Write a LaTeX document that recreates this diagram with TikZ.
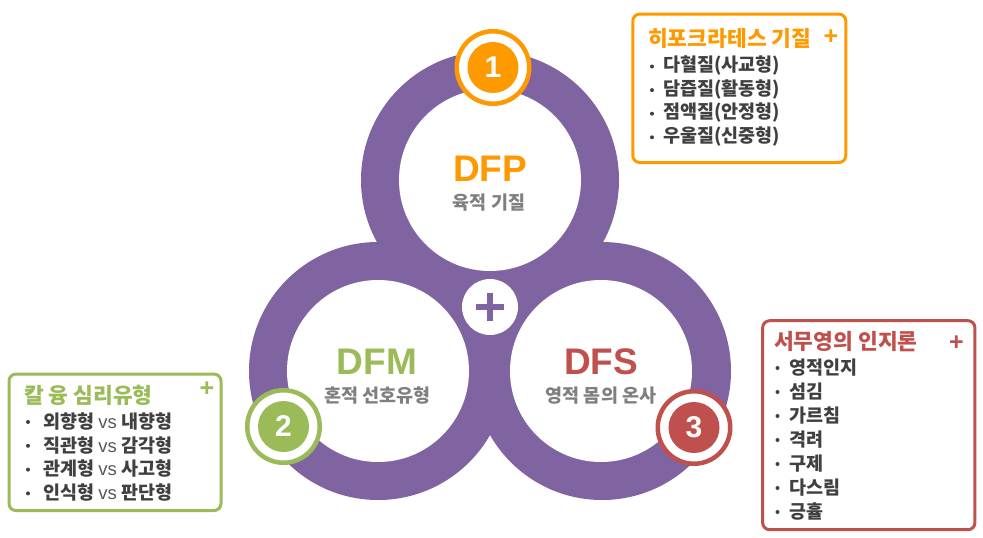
\documentclass[tikz,border=0pt]{standalone}
\usepackage{fontspec}
\setmainfont{Liberation Sans}
\newfontfamily\kr{Noto Sans CJK KR}
\definecolor{purp}{HTML}{8064A2}
\definecolor{org}{HTML}{FF9900}
\definecolor{grn}{HTML}{9BBB59}
\definecolor{rd}{HTML}{C0504D}
\definecolor{dk}{HTML}{404040}
\definecolor{midg}{HTML}{7F7F7F}
\definecolor{vsg}{HTML}{595959}
\newcommand\vsword{{\rmfamily\mdseries\color{vsg}vs}}
\tikzset{
  ring/.style={circle, fill=purp, minimum size=258pt, inner sep=0pt},
  hole/.style={circle, fill=white, minimum size=182pt, inner sep=0pt},
  bigtxt/.style={font=\rmfamily\bfseries\fontsize{37}{37}\selectfont, inner sep=0pt},
  subtxt/.style={font=\kr\bfseries\fontsize{18.5}{18.5}\selectfont, text=midg, inner sep=0pt},
  badgering/.style={circle, draw=#1, fill=white, line width=4.5pt, minimum size=72.5pt, inner sep=0pt},
  badgefill/.style={circle, fill=#1, minimum size=51pt, inner sep=0pt, text=white,
     font=\rmfamily\bfseries\fontsize{30}{30}\selectfont},
  infobox/.style={draw=#1, line width=3pt, rounded corners=7pt, fill=white, inner sep=0pt},
  boxtitle/.style={anchor=west, inner sep=0pt, text=#1, font=\kr\bfseries\fontsize{21.5}{21.5}\selectfont},
  boxplus/.style={inner sep=0pt, text=#1, font=\rmfamily\bfseries\fontsize{25}{25}\selectfont},
  itemtxt/.style={anchor=west, inner sep=0pt, text=dk, font=\kr\bfseries\fontsize{18.5}{18.5}\selectfont},
  bul/.style={circle, fill=dk, inner sep=0pt, minimum size=4pt},
}
\begin{document}
\begin{tikzpicture}[x=1pt,y=-1pt]
\useasboundingbox (0,0) rectangle (983,538);
% purple rings
\node[ring] (rP) at (490,180) {};
\node[ring] (rM) at (378,371) {};
\node[ring] (rS) at (602,371) {};
\node[hole] (hP) at (490,180) {};
\node[hole] (hM) at (378,371) {};
\node[hole] (hS) at (601,371) {};
% center plus
\node[circle, fill=white, minimum size=56pt, inner sep=0pt] (plus) at (490,307) {};
\draw[purp, line width=6pt] ([xshift=-14pt]plus.center) -- ([xshift=14pt]plus.center);
\draw[purp, line width=6pt] ([yshift=-14pt]plus.center) -- ([yshift=14pt]plus.center);
% labels
\node[bigtxt, text=org] (tP) at (490,169) {DFP};
\node[subtxt] (sP) at (489,202.5) {육적 기질};
\node[bigtxt, text=grn] (tM) at (377,361.7) {DFM};
\node[subtxt] (sM) at (377.5,396) {혼적 선호유형};
\node[bigtxt, text=rd] (tS) at (601,361.7) {DFS};
\node[subtxt] (sS) at (601,396) {영적 몸의 온사};
% badges
\node[badgering=org] (b1r) at (493,67.5) {};
\node[badgefill=org] (b1) at (493,67.5) {1};
\node[badgering=grn] (b2r) at (283.5,426.5) {};
\node[badgefill=grn] (b2) at (283.5,426.5) {2};
\node[badgering=rd] (b3r) at (694,427.5) {};
\node[badgefill=rd] (b3) at (694,427.5) {3};
% orange box
\node[infobox=org, minimum width=213pt, minimum height=148.5pt] (obox) at (739.3,88.3) {};
\node[boxtitle=org] (otitle) at (648,38.3) {히포크라테스 기질};
\node[boxplus=org] (oplus) at (831,37) {+};
\foreach \t [count=\i] in {다혈질(사교형), 담즙질(활동형), 점액질(안정형), 우울질(신중형)}{
  \node[bul] (ob\i) at (652,66.5+23.6*\i-23.6) {};
  \node[itemtxt] (oi\i) at (663,65.8+23.6*\i-23.6) {\t};
}
% green box
\node[infobox=grn, minimum width=212pt, minimum height=136.5pt] (gbox) at (115,442.3) {};
\node[boxtitle=grn] (gtitle) at (24,395) {칼 융 심리유형};
\node[boxplus=grn] (gplus) at (207,389) {+};
\foreach \t [count=\i] in {{외향형 \vsword{} 내향형}, {직관형 \vsword{} 감각형}, {관계형 \vsword{} 사고형}, {인식형 \vsword{} 판단형}}{
  \node[bul] (gb\i) at (28,422+23.8*\i-23.8) {};
  \node[itemtxt] (gi\i) at (43,421.3+23.8*\i-23.8) {\t};
}
% red box
\node[infobox=rd, minimum width=212.3pt, minimum height=209pt] (rbox) at (868.8,425.2) {};
\node[boxtitle=rd] (rtitle) at (774,342) {서무영의 인지론};
\node[boxplus=rd] (rplus) at (956.5,343) {+};
\foreach \t [count=\i] in {영적인지, 섬김, 가르침, 격려, 구제, 다스림, 긍휼}{
  \node[bul] (rb\i) at (777.5,368+24*\i-24) {};
  \node[itemtxt] (ri\i) at (789,367.3+24*\i-24) {\t};
}
\end{tikzpicture}
\end{document}
